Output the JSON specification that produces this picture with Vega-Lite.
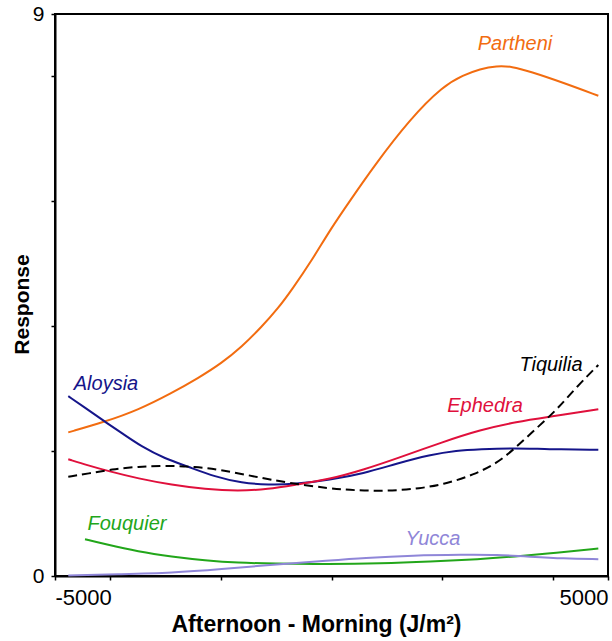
{
  "$schema": "https://vega.github.io/schema/vega-lite/v6.json",
  "width": 553,
  "height": 562,
  "autosize": "none",
  "padding": {"left": 55, "top": 14, "right": 4, "bottom": 65},
  "background": "white",
  "config": {
    "view": {"stroke": "black", "strokeWidth": 2},
    "font": "Liberation Sans"
  },
  "datasets": {
    "curves": [
      {"series": "Partheni", "x": -4760, "y": 2.30},
      {"series": "Partheni", "x": -4096, "y": 2.47},
      {"series": "Partheni", "x": -3494, "y": 2.66},
      {"series": "Partheni", "x": -2890, "y": 2.93},
      {"series": "Partheni", "x": -2409, "y": 3.17},
      {"series": "Partheni", "x": -1986, "y": 3.41},
      {"series": "Partheni", "x": -1624, "y": 3.67},
      {"series": "Partheni", "x": -1262, "y": 3.99},
      {"series": "Partheni", "x": -962, "y": 4.29},
      {"series": "Partheni", "x": -720, "y": 4.58},
      {"series": "Partheni", "x": -358, "y": 5.05},
      {"series": "Partheni", "x": 0, "y": 5.58},
      {"series": "Partheni", "x": 335, "y": 6.01},
      {"series": "Partheni", "x": 756, "y": 6.55},
      {"series": "Partheni", "x": 1420, "y": 7.32},
      {"series": "Partheni", "x": 2022, "y": 7.85},
      {"series": "Partheni", "x": 2383, "y": 8.02},
      {"series": "Partheni", "x": 2685, "y": 8.12},
      {"series": "Partheni", "x": 2987, "y": 8.17},
      {"series": "Partheni", "x": 3259, "y": 8.16},
      {"series": "Partheni", "x": 3590, "y": 8.08},
      {"series": "Partheni", "x": 4192, "y": 7.90},
      {"series": "Partheni", "x": 4825, "y": 7.69},

      {"series": "Aloysia", "x": -4760, "y": 2.88},
      {"series": "Aloysia", "x": -4398, "y": 2.66},
      {"series": "Aloysia", "x": -4096, "y": 2.47},
      {"series": "Aloysia", "x": -3794, "y": 2.29},
      {"series": "Aloysia", "x": -3432, "y": 2.07},
      {"series": "Aloysia", "x": -3011, "y": 1.88},
      {"series": "Aloysia", "x": -2590, "y": 1.75},
      {"series": "Aloysia", "x": -2107, "y": 1.59},
      {"series": "Aloysia", "x": -1624, "y": 1.49},
      {"series": "Aloysia", "x": -1143, "y": 1.46},
      {"series": "Aloysia", "x": -660, "y": 1.47},
      {"series": "Aloysia", "x": -27, "y": 1.54},
      {"series": "Aloysia", "x": 575, "y": 1.64},
      {"series": "Aloysia", "x": 1179, "y": 1.80},
      {"series": "Aloysia", "x": 1781, "y": 1.94},
      {"series": "Aloysia", "x": 2264, "y": 2.01},
      {"series": "Aloysia", "x": 2685, "y": 2.03},
      {"series": "Aloysia", "x": 3288, "y": 2.05},
      {"series": "Aloysia", "x": 3891, "y": 2.03},
      {"series": "Aloysia", "x": 4825, "y": 2.02},

      {"series": "Ephedra", "x": -4760, "y": 1.87},
      {"series": "Ephedra", "x": -4398, "y": 1.77},
      {"series": "Ephedra", "x": -4036, "y": 1.68},
      {"series": "Ephedra", "x": -3494, "y": 1.56},
      {"series": "Ephedra", "x": -2890, "y": 1.46},
      {"series": "Ephedra", "x": -2288, "y": 1.39},
      {"series": "Ephedra", "x": -1685, "y": 1.36},
      {"series": "Ephedra", "x": -1143, "y": 1.39},
      {"series": "Ephedra", "x": -660, "y": 1.46},
      {"series": "Ephedra", "x": -27, "y": 1.55},
      {"series": "Ephedra", "x": 575, "y": 1.70},
      {"series": "Ephedra", "x": 1179, "y": 1.88},
      {"series": "Ephedra", "x": 2022, "y": 2.15},
      {"series": "Ephedra", "x": 2685, "y": 2.34},
      {"series": "Ephedra", "x": 3349, "y": 2.47},
      {"series": "Ephedra", "x": 3951, "y": 2.55},
      {"series": "Ephedra", "x": 4825, "y": 2.67},

      {"series": "Tiquilia", "x": -4760, "y": 1.59},
      {"series": "Tiquilia", "x": -4398, "y": 1.64},
      {"series": "Tiquilia", "x": -3975, "y": 1.71},
      {"series": "Tiquilia", "x": -3494, "y": 1.75},
      {"series": "Tiquilia", "x": -3011, "y": 1.77},
      {"series": "Tiquilia", "x": -2468, "y": 1.75},
      {"series": "Tiquilia", "x": -1986, "y": 1.70},
      {"series": "Tiquilia", "x": -1383, "y": 1.59},
      {"series": "Tiquilia", "x": -781, "y": 1.49},
      {"series": "Tiquilia", "x": -27, "y": 1.40},
      {"series": "Tiquilia", "x": 456, "y": 1.37},
      {"series": "Tiquilia", "x": 998, "y": 1.36},
      {"series": "Tiquilia", "x": 1600, "y": 1.40},
      {"series": "Tiquilia", "x": 2083, "y": 1.48},
      {"series": "Tiquilia", "x": 2564, "y": 1.62},
      {"series": "Tiquilia", "x": 2987, "y": 1.80},
      {"series": "Tiquilia", "x": 3349, "y": 2.07},
      {"series": "Tiquilia", "x": 3711, "y": 2.37},
      {"series": "Tiquilia", "x": 4072, "y": 2.66},
      {"series": "Tiquilia", "x": 4434, "y": 3.03},
      {"series": "Tiquilia", "x": 4825, "y": 3.38},

      {"series": "Fouquier", "x": -4458, "y": 0.59},
      {"series": "Fouquier", "x": -4096, "y": 0.51},
      {"series": "Fouquier", "x": -3494, "y": 0.39},
      {"series": "Fouquier", "x": -2890, "y": 0.31},
      {"series": "Fouquier", "x": -2288, "y": 0.25},
      {"series": "Fouquier", "x": -1685, "y": 0.21},
      {"series": "Fouquier", "x": -1081, "y": 0.20},
      {"series": "Fouquier", "x": -27, "y": 0.19},
      {"series": "Fouquier", "x": 877, "y": 0.20},
      {"series": "Fouquier", "x": 1781, "y": 0.23},
      {"series": "Fouquier", "x": 2685, "y": 0.27},
      {"series": "Fouquier", "x": 3288, "y": 0.31},
      {"series": "Fouquier", "x": 4072, "y": 0.37},
      {"series": "Fouquier", "x": 4825, "y": 0.44},

      {"series": "Yucca", "x": -4760, "y": 0.01},
      {"series": "Yucca", "x": -3794, "y": 0.03},
      {"series": "Yucca", "x": -2890, "y": 0.05},
      {"series": "Yucca", "x": -1986, "y": 0.11},
      {"series": "Yucca", "x": -1081, "y": 0.18},
      {"series": "Yucca", "x": -27, "y": 0.25},
      {"series": "Yucca", "x": 575, "y": 0.29},
      {"series": "Yucca", "x": 1479, "y": 0.33},
      {"series": "Yucca", "x": 2383, "y": 0.34},
      {"series": "Yucca", "x": 2987, "y": 0.34},
      {"series": "Yucca", "x": 3590, "y": 0.31},
      {"series": "Yucca", "x": 4192, "y": 0.28},
      {"series": "Yucca", "x": 4825, "y": 0.27}
    ],
    "labels": [
      {"series": "Partheni", "x": 3318, "y": 8.52},
      {"series": "Aloysia", "x": -4078, "y": 3.07},
      {"series": "Tiquilia", "x": 3969, "y": 3.38},
      {"series": "Ephedra", "x": 2776, "y": 2.72},
      {"series": "Fouquier", "x": -3698, "y": 0.83},
      {"series": "Yucca", "x": 1835, "y": 0.59}
    ]
  },
  "layer": [
    {
      "data": {"values": [{"x": 0}]},
      "mark": {"type": "rule", "color": "black", "strokeWidth": 1},
      "encoding": {
        "x": {"field": "x", "type": "quantitative", "scale": {"domain": [-5000, 5000], "nice": false, "zero": false}}
      }
    },
    {
      "data": {"name": "curves"},
      "transform": [{"filter": "datum.series !== 'Tiquilia'"}],
      "mark": {"type": "line", "interpolate": "basis", "strokeWidth": 2},
      "encoding": {
        "x": {"field": "x", "type": "quantitative"},
        "y": {"field": "y", "type": "quantitative"},
        "color": {"field": "series", "type": "nominal", "legend": null}
      }
    },
    {
      "data": {"name": "curves"},
      "transform": [{"filter": "datum.series === 'Tiquilia'"}],
      "mark": {"type": "line", "interpolate": "basis", "strokeWidth": 2, "strokeDash": [9, 5]},
      "encoding": {
        "x": {"field": "x", "type": "quantitative"},
        "y": {"field": "y", "type": "quantitative"},
        "color": {"field": "series", "type": "nominal", "legend": null}
      }
    },
    {
      "data": {"name": "labels"},
      "mark": {"type": "text", "fontStyle": "italic", "fontSize": 20, "align": "center", "baseline": "middle", "font": "Liberation Sans"},
      "encoding": {
        "x": {"field": "x", "type": "quantitative"},
        "y": {"field": "y", "type": "quantitative"},
        "text": {"field": "series"},
        "color": {"field": "series", "type": "nominal", "legend": null}
      }
    }
  ],
  "encoding": {
    "x": {
      "field": "x", "type": "quantitative",
      "scale": {"domain": [-5000, 5000], "nice": false, "zero": false},
      "axis": {
        "title": "Afternoon - Morning (J/m²)",
        "values": [-5000, -4000, -2000, 0, 2000, 4000, 5000],
        "labelExpr": "datum.value == -5000 ? '-5000' : (datum.value == 5000 ? '5000' : '')",
        "labelFlush": true,
        "grid": false,
        "domainColor": "black", "domainWidth": 2,
        "tickColor": "black", "tickWidth": 1.5, "tickSize": 4,
        "labelFont": "Liberation Sans", "labelFontSize": 22, "labelColor": "black", "labelPadding": 7,
        "titleFont": "Liberation Sans", "titleFontSize": 23, "titleFontWeight": "bold", "titleColor": "black",
        "titleBaseline": "alphabetic", "titleY": 55, "titleX": 261
      }
    },
    "y": {
      "field": "y", "type": "quantitative",
      "scale": {"domain": [0, 9], "nice": false, "zero": true},
      "axis": {
        "title": "Response",
        "values": [0, 2, 4, 6, 8, 9],
        "labelExpr": "datum.value == 0 || datum.value == 9 ? datum.label : ''",
        "grid": false,
        "domainColor": "black", "domainWidth": 2,
        "tickColor": "black", "tickWidth": 1.5, "tickSize": 4,
        "labelFont": "Liberation Sans", "labelFontSize": 21, "labelColor": "black", "labelPadding": 7,
        "titleFont": "Liberation Sans", "titleFontSize": 21, "titleFontWeight": "bold", "titleColor": "black",
        "titleBaseline": "alphabetic", "titleAngle": -90, "titleAlign": "center", "titleX": -27, "titleY": 290
      }
    },
    "color": {
      "field": "series", "type": "nominal",
      "scale": {
        "domain": ["Partheni", "Aloysia", "Tiquilia", "Ephedra", "Fouquier", "Yucca"],
        "range": ["#f26c10", "#15158a", "#000000", "#e0103c", "#22a61a", "#8f86d8"]
      },
      "legend": null
    }
  }
}
